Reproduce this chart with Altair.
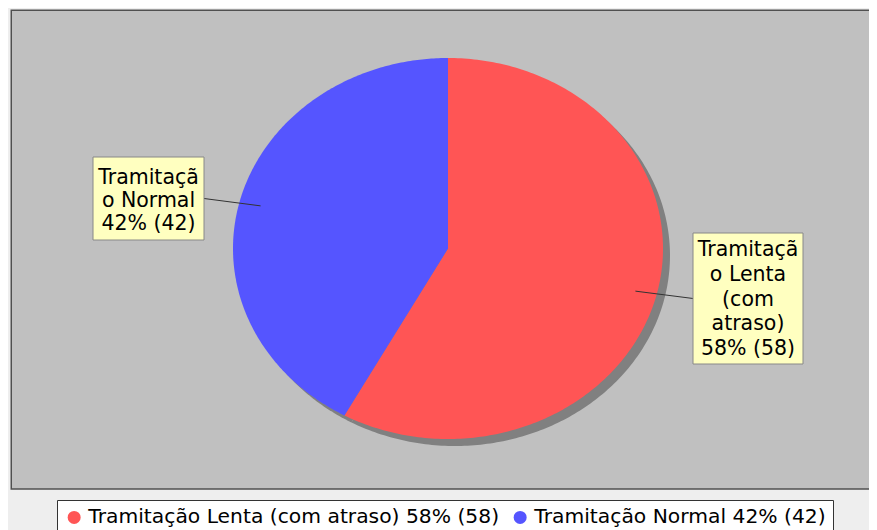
import altair as alt
import pandas as pd

# ---- data ----
CATEGORIES = ["Tramitação Lenta (com atraso)", "Tramitação Normal"]
VALUES = [58, 42]
COLORS = ["#ff5555", "#5555ff"]
LABEL_LINES = [["Tramitaçã", "o Lenta", "(com", "atraso)"], ["Tramitaçã", "o Normal"]]

# ---- layout (pixels, svg coordinates) ----
W, H = 861, 522
CX, CY, RX, RY = 440.0, 240.5, 215.0, 190.5
SHADOW = 7
ANCHOR_K = 0.9
FONT = "DejaVu Sans"
FS = 20.5
# x1, y1, x2, y2, first baseline, line height, edge x for leader
BOXES = [
    (685, 225, 795, 356, 248, 24.75, 685),
    (85, 149, 196, 232, 175.5, 23, 196),
]

total = sum(VALUES)
pct = [round(v * 100 / total) for v in VALUES]
legend_labels = [f"{c} {p}% ({v})" for c, p, v in zip(CATEGORIES, pct, VALUES)]
label_texts = ["\n".join(lines + [f"{p}% ({v})"]) for lines, p, v in zip(LABEL_LINES, pct, VALUES)]

slices = pd.DataFrame({
    "idx": list(range(len(VALUES))),
    "cat": CATEGORIES,
    "value": VALUES,
    "legend": legend_labels,
    "label": label_texts,
})

xs = alt.Scale(domain=[0, W], range=[0, W])
ys = alt.Scale(domain=[0, H], range=[0, H])


def angles(chart):
    return (
        chart.transform_joinaggregate(total="sum(value)")
        .transform_window(cum="sum(value)", sort=[alt.SortField("idx", order="ascending")], frame=[None, 0])
        .transform_calculate(
            a0="2*PI*(datum.cum - datum.value)/datum.total",
            a1="2*PI*datum.cum/datum.total",
        )
    )


def wedges(dx, dy):
    return (
        angles(alt.Chart(slices))
        .transform_calculate(ts="sequence(-1, 241)")
        .transform_flatten(["ts"])
        .transform_calculate(
            ang="datum.a0 + (datum.a1 - datum.a0)*max(datum.ts, 0)/240",
            rr="datum.ts < 0 ? 0 : 1",
        )
        .transform_calculate(
            px=f"{CX + dx} + {RX}*datum.rr*sin(datum.ang)",
            py=f"{CY + dy} - {RY}*datum.rr*cos(datum.ang)",
        )
    )


frame = alt.Chart(pd.DataFrame({"k": [0]})).mark_rect(
    fill="#c0c0c0", stroke="#505050", strokeWidth=1.5
).encode(x=alt.value(3.25), x2=alt.value(W + 10), y=alt.value(2.25), y2=alt.value(481))

shadow = wedges(SHADOW, SHADOW).mark_line(filled=True, interpolate="linear").encode(
    x=alt.X("px:Q", scale=xs, axis=None),
    y=alt.Y("py:Q", scale=ys, axis=None),
    order=alt.Order("ts:Q"),
    detail="cat:N",
    color=alt.value("#808080"),
)

pie = wedges(0, 0).mark_line(filled=True, interpolate="linear").encode(
    x=alt.X("px:Q", scale=xs, axis=None),
    y=alt.Y("py:Q", scale=ys, axis=None),
    order=alt.Order("ts:Q"),
    detail="cat:N",
    color=alt.Color(
        "legend:N",
        scale=alt.Scale(domain=legend_labels, range=COLORS),
        legend=alt.Legend(
            orient="none", legendX=49, legendY=492, direction="horizontal",
            title=None, symbolType="circle", symbolSize=169, symbolStrokeWidth=0,
            labelFont=FONT, labelFontSize=20.3, labelColor="black",
            labelOffset=4, columnPadding=10, padding=7,
            fillColor="white", strokeColor="#333333", labelLimit=0,
        ),
    ),
)

layers = [frame, shadow, pie]

for i, (x1, y1, x2, y2, base, lh, ex) in enumerate(BOXES):
    ey = (y1 + y2) / 2
    leader = (
        angles(alt.Chart(slices))
        .transform_filter(f"datum.idx == {i}")
        .transform_calculate(mid="(datum.a0 + datum.a1)/2")
        .transform_calculate(
            ax=f"{CX} + {RX * ANCHOR_K}*sin(datum.mid)",
            ay=f"{CY} - {RY * ANCHOR_K}*cos(datum.mid)",
        )
        .mark_rule(color="#333333", strokeWidth=1)
        .encode(
            x=alt.X("ax:Q", scale=xs, axis=None),
            y=alt.Y("ay:Q", scale=ys, axis=None),
            x2=alt.value(ex),
            y2=alt.value(ey),
        )
    )
    box = alt.Chart(slices).transform_filter(f"datum.idx == {i}").mark_rect(
        fill="#ffffc0", stroke="#888888", strokeWidth=1
    ).encode(x=alt.value(x1), x2=alt.value(x2), y=alt.value(y1), y2=alt.value(y2))
    txt = alt.Chart(slices).transform_filter(f"datum.idx == {i}").mark_text(
        align="center", baseline="alphabetic", lineBreak="\n", lineHeight=lh,
        fontSize=FS, font=FONT, color="black",
    ).encode(x=alt.value((x1 + x2) / 2), y=alt.value(base), text="label:N")
    layers += [leader, box, txt]

chart = alt.layer(*layers).properties(
    width=W, height=H, padding=0,
    autosize=alt.AutoSizeParams(type="none"),
    background="#eeeeee",
).configure_view(stroke="transparent")

chart.save("out.html", embed_options={"renderer": "svg", "actions": False})
